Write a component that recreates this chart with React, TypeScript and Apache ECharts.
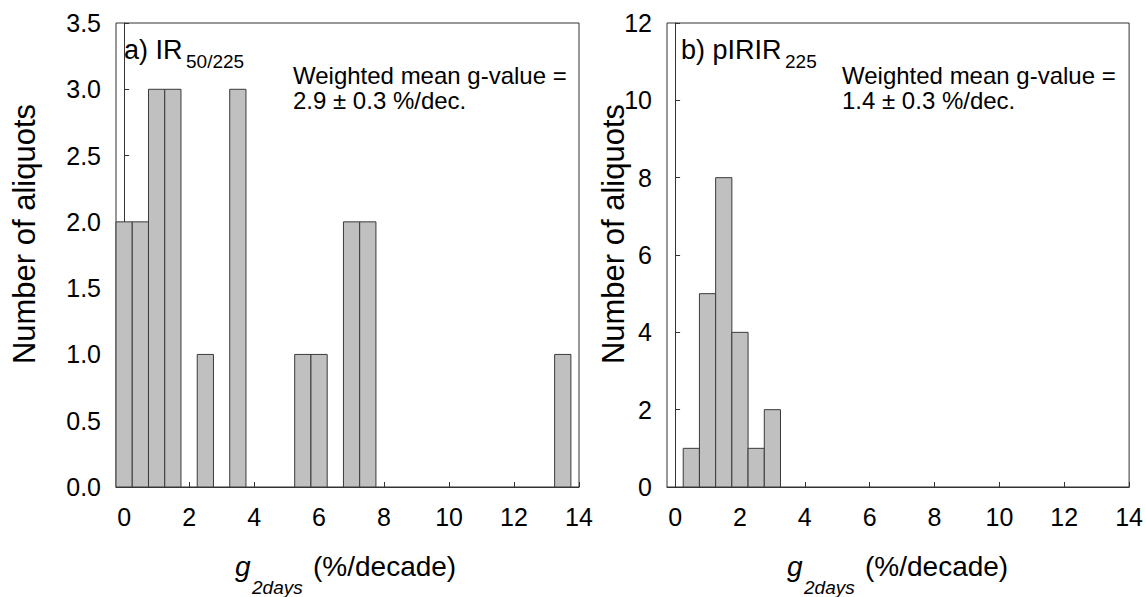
import React, { useEffect, useRef } from 'react';
import * as echarts from 'echarts';

// Panel a) IR50/225 histogram: bin centres and counts
const binsA = [0, 0.5, 1, 1.5, 2.5, 3.5, 5.5, 6, 7, 7.5, 13.5];
const countsA = [2, 2, 3, 3, 1, 3, 1, 1, 2, 2, 1];
// Panel b) pIRIR225 histogram
const binsB = [0.5, 1, 1.5, 2, 2.5, 3];
const countsB = [1, 5, 8, 4, 1, 2];
const binWidth = 0.5;

const xMin = -0.25;
const xMax = 14;
const xTicks = [0, 2, 4, 6, 8, 10, 12, 14];
const yMaxA = 3.5;
const yIntervalA = 0.5;
const yMaxB = 12;
const yIntervalB = 2;

const titleA = 'a) IR';
const subA = '50/225';
const titleB = 'b) pIRIR';
const subB = '225';
const noteA = ['Weighted mean g-value =', '2.9 ± 0.3 %/dec.'];
const noteB = ['Weighted mean g-value =', '1.4 ± 0.3 %/dec.'];
const yTitle = 'Number of aliquots';
const xTitleMain = 'g';
const xTitleSub = '2days';
const xTitleRest = '(%/decade)';

const FONT = 'Liberation Sans, Arial, Helvetica, sans-serif';
const AXIS_COLOR = '#333';

function renderBar(params: any, api: any) {
  const x = api.value(0);
  const y = api.value(1);
  const p0 = api.coord([x - binWidth / 2, y]);
  const p1 = api.coord([x + binWidth / 2, 0]);
  return {
    type: 'rect',
    shape: { x: p0[0], y: p0[1], width: p1[0] - p0[0], height: p1[1] - p0[1] },
    style: { fill: '#c0c0c0', stroke: '#3a3a3a', lineWidth: 1 },
  };
}

function xAxisCfg(gridIndex: number) {
  return {
    type: 'value',
    gridIndex,
    min: xMin,
    max: xMax,
    axisLine: { show: true, lineStyle: { color: AXIS_COLOR, width: 1 } },
    axisTick: { show: true, inside: true, length: 5, customValues: xTicks, lineStyle: { color: AXIS_COLOR } },
    splitLine: { show: false },
    axisLabel: {
      color: '#000',
      fontSize: 25,
      fontFamily: FONT,
      margin: 17,
      customValues: xTicks,
      formatter: (v: number) => String(Math.round(v)),
    },
  };
}

function yAxisCfg(gridIndex: number, max: number, interval: number, decimals: number) {
  return {
    type: 'value',
    gridIndex,
    min: 0,
    max,
    interval,
    axisLine: { show: true, lineStyle: { color: AXIS_COLOR, width: 1 } },
    axisTick: { show: true, inside: true, length: 5, lineStyle: { color: AXIS_COLOR } },
    splitLine: { show: false },
    axisLabel: {
      color: '#000',
      fontSize: 25,
      fontFamily: FONT,
      margin: 15,
      formatter: (v: number) => v.toFixed(decimals),
    },
  };
}

function txt(x: number, y: number, text: string, font: string, extra: any = {}) {
  return {
    type: 'text',
    x,
    y,
    ...extra,
    style: { text, font, fill: '#000', verticalAlign: 'middle', align: extra.align || 'left', lineHeight: extra.lineHeight },
  };
}

function axisTitles(dx: number, yTitleX: number) {
  return [
    { type: 'text', x: yTitleX, y: 234, rotation: Math.PI / 2, style: { text: yTitle, font: `31px ${FONT}`, fill: '#000', verticalAlign: 'middle', align: 'center' } },
    txt(235 + dx, 566, xTitleMain, `italic 28px ${FONT}`),
    txt(252 + dx, 587, xTitleSub, `italic 19px ${FONT}`),
    txt(313 + dx, 566, xTitleRest, `28px ${FONT}`),
  ];
}

export default function App() {
  const ref = useRef<HTMLDivElement>(null);
  useEffect(() => {
    if (!ref.current) return;
    const chart = echarts.init(ref.current, undefined, { renderer: 'svg' });
    const option: any = {
      animation: false,
      backgroundColor: '#fff',
      grid: [
        { left: 116, top: 23, width: 463, height: 464, show: true, borderColor: AXIS_COLOR, borderWidth: 1, backgroundColor: 'transparent' },
        { left: 667, top: 23, width: 464, height: 464, show: true, borderColor: AXIS_COLOR, borderWidth: 1, backgroundColor: 'transparent' },
      ],
      xAxis: [xAxisCfg(0), xAxisCfg(1)],
      yAxis: [yAxisCfg(0, yMaxA, yIntervalA, 1), yAxisCfg(1, yMaxB, yIntervalB, 0)],
      series: [
        {
          type: 'custom',
          xAxisIndex: 0,
          yAxisIndex: 0,
          renderItem: renderBar,
          data: binsA.map((b, i) => [b, countsA[i]]),
        },
        {
          type: 'custom',
          xAxisIndex: 1,
          yAxisIndex: 1,
          renderItem: renderBar,
          data: binsB.map((b, i) => [b, countsB[i]]),
        },
      ],
      graphic: [
        txt(124, 50, titleA, `27px ${FONT}`),
        txt(186, 61, subA, `19px ${FONT}`),
        txt(293, 88, noteA.join('\n'), `24px ${FONT}`, { lineHeight: 25 }),
        txt(681, 50, titleB, `27px ${FONT}`),
        txt(785, 61, subB, `19px ${FONT}`),
        txt(842, 88, noteB.join('\n'), `24px ${FONT}`, { lineHeight: 25 }),
        ...axisTitles(0, 24),
        ...axisTitles(552, 613),
      ],
    };
    chart.setOption(option);
    return () => chart.dispose();
  }, []);
  return <div ref={ref} style={{ position: 'absolute', left: 0, top: 0, width: 1146, height: 597 }} />;
}
